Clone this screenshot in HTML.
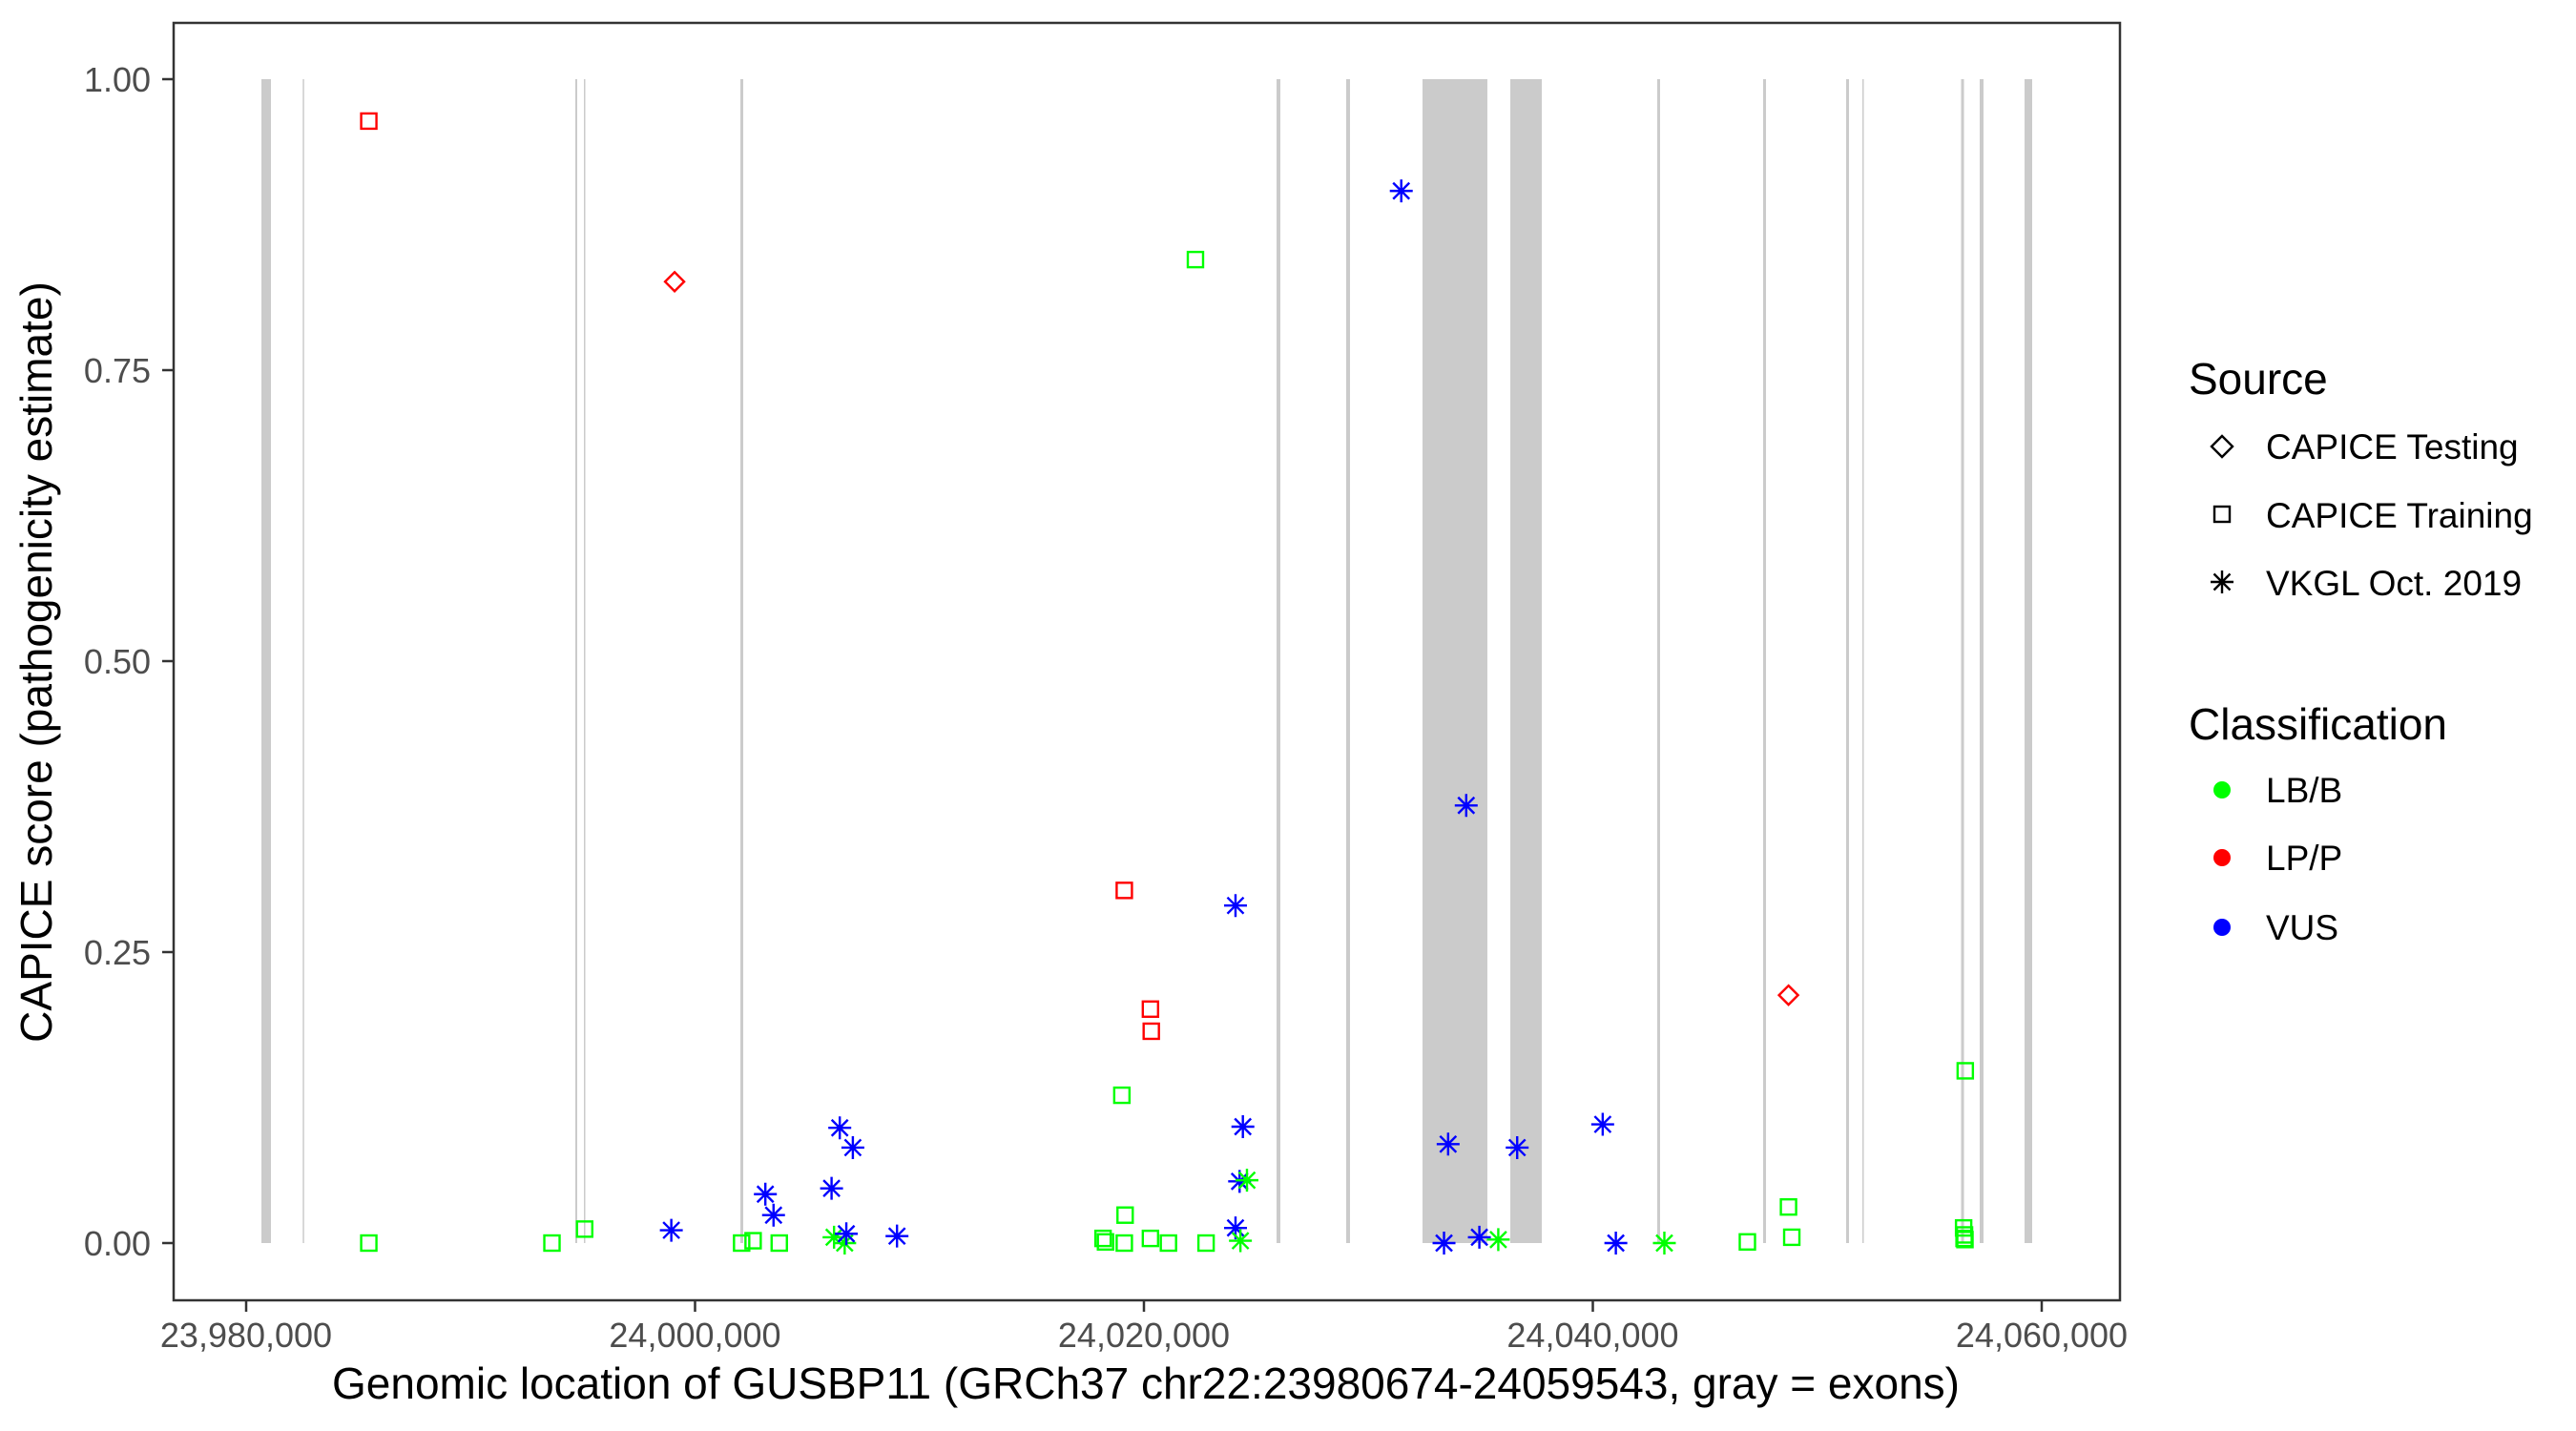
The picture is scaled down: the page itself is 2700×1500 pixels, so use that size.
<!DOCTYPE html>
<html><head><meta charset="utf-8"><style>
html,body{margin:0;padding:0;background:#fff;}
svg{display:block;font-family:"Liberation Sans",Arial,sans-serif;}
</style></head><body>
<svg id="chart" width="2700" height="1500" viewBox="0 0 2700 1500">
<rect width="2700" height="1500" fill="#fff"/>
<g id="exons"></g>
<g id="points"></g>
<rect x="182" y="24" width="2040" height="1339" fill="none" stroke="#333" stroke-width="2.5"/>
<g id="axes"></g>
<text x="1201" y="1466" text-anchor="middle" font-size="46" fill="#000">Genomic location of GUSBP11 (GRCh37 chr22:23980674-24059543, gray = exons)</text>
<text transform="translate(54,694) rotate(-90)" text-anchor="middle" font-size="46" fill="#000">CAPICE score (pathogenicity estimate)</text>
<g id="legend">
<text x="2294" y="413" font-size="46" fill="#000">Source</text>
<g><path d="M2329,457 l11,11 l-11,11 l-11,-11z" fill="none" stroke="#000" stroke-width="2.4"/><text x="2375" y="481" font-size="37">CAPICE Testing</text></g>
<g><rect x="2321" y="531" width="16" height="16" fill="none" stroke="#000" stroke-width="2.4"/><text x="2375" y="553" font-size="37">CAPICE Training</text></g>
<g><path d="M2317,610 h24 M2329,598 v24 M2320.5,601.5 l17,17 M2337.5,601.5 l-17,17" stroke="#000" stroke-width="2.4"/><text x="2375" y="624" font-size="37">VKGL Oct. 2019</text></g>
<text x="2294" y="775" font-size="46" fill="#000">Classification</text>
<g><circle cx="2329" cy="828" r="9" fill="#00ff00"/><text x="2375" y="841" font-size="37">LB/B</text></g>
<g><circle cx="2329" cy="899" r="9" fill="#ff0000"/><text x="2375" y="912" font-size="37">LP/P</text></g>
<g><circle cx="2329" cy="972" r="9" fill="#0000ff"/><text x="2375" y="985" font-size="37">VUS</text></g>
</g>
</svg>
<script>
const exonStarts=[23980680,23982520,23994665,23995048,24002020,24025908,24029011,24032412,24036323,24042869,24047588,24051286,24052009,24056408,24057237,24059235];
const exonEnds=[23981105,23982580,23994750,23995090,24002147,24026078,24029181,24035302,24037726,24042997,24047716,24051414,24052051,24056536,24057407,24059575];
const xTicks=[23980000,24000000,24020000,24040000,24060000];
const xTickLabels=["23,980,000","24,000,000","24,020,000","24,040,000","24,060,000"];
const yTicks=[0,0.25,0.5,0.75,1];
const yTickLabels=["0.00","0.25","0.50","0.75","1.00"];
const pointPos=[23985465,23999089,24022295,23985465,23993625,23995082,23998943,24002076,24002587,24003752,24003133,24003497,24006083,24006448,24007031,24006193,24006667,24006740,24008998,24019125,24020290,24020327,24019016,24019161,24018178,24018288,24019125,24020290,24021092,24022768,24024080,24024408,24024262,24024590,24024080,24024299,24031465,24034359,24033553,24036630,24040440,24033370,24034945,24035788,24041026,24043187,24046886,24048718,24048718,24048864,24056593,24056520,24056560,24056540,24056580];
const pointScore=[0.964,0.826,0.845,0,0,0.012,0.011,0,0.002,0,0.042,0.024,0.047,0.099,0.082,0.005,0,0.008,0.006,0.303,0.201,0.182,0.127,0.024,0.004,0.001,0,0.004,0,0,0.290,0.100,0.053,0.054,0.013,0.002,0.904,0.376,0.085,0.082,0.102,0,0.005,0.003,0,0,0.001,0.213,0.031,0.005,0.148,0.013,0.007,0.004,0.003];
const pointSource=["train","test","train","train","train","train","vkgl","train","train","train","vkgl","vkgl","vkgl","vkgl","vkgl","vkgl","vkgl","vkgl","vkgl","train","train","train","train","train","train","train","train","train","train","train","vkgl","vkgl","vkgl","vkgl","vkgl","vkgl","vkgl","vkgl","vkgl","vkgl","vkgl","vkgl","vkgl","vkgl","vkgl","vkgl","train","test","train","train","train","train","train","train","train"];
const pointClass=["LP","LP","LB","LB","LB","LB","VUS","LB","LB","LB","VUS","VUS","VUS","VUS","VUS","LB","LB","VUS","VUS","LP","LP","LP","LB","LB","LB","LB","LB","LB","LB","LB","VUS","VUS","VUS","LB","VUS","LB","VUS","VUS","VUS","VUS","VUS","VUS","VUS","LB","VUS","LB","LB","LP","LB","LB","LB","LB","LB","LB","LB"];
const colors={LB:"#00ff00",LP:"#ff0000",VUS:"#0000ff"};
const NS="http://www.w3.org/2000/svg";
function sx(v){return 258+(v-23980000)*0.023525;}
function sy(v){return 1303-v*1220;}
function mk(tag,attrs,parent){const e=document.createElementNS(NS,tag);for(const k in attrs)e.setAttribute(k,attrs[k]);parent.appendChild(e);return e;}
const ex=document.getElementById('exons');
for(let i=0;i<exonStarts.length;i++){
  const r=mk('rect',{x:sx(exonStarts[i]),y:sy(1),width:Math.max(1.5,sx(exonEnds[i])-sx(exonStarts[i])),height:sy(0)-sy(1),fill:"#cbcbcb"},ex);
  
  
}
const ax=document.getElementById('axes');
for(let i=0;i<xTicks.length;i++){
  const x=sx(xTicks[i]);
  const t=mk('line',{x1:x,x2:x,y1:1363,y2:1375,stroke:"#333","stroke-width":2.5},ax);
  
  
  const l=mk('text',{x:x,y:1412,"text-anchor":"middle","font-size":36,fill:"#4d4d4d"},ax);
  l.textContent=xTickLabels[i];
  
  
}
for(let i=0;i<yTicks.length;i++){
  const y=sy(yTicks[i]);
  const t=mk('line',{x1:170,x2:182,y1:y,y2:y,stroke:"#333","stroke-width":2.5},ax);
  
  
  const l=mk('text',{x:158,y:y+13,"text-anchor":"end","font-size":36,fill:"#4d4d4d"},ax);
  l.textContent=yTickLabels[i];
  
  
}
const pg=document.getElementById('points');
for(let i=0;i<pointPos.length;i++){
  const x=sx(pointPos[i]),y=sy(pointScore[i]),c=colors[pointClass[i]];
  let e;
  if(pointSource[i]==="train"){
    e=mk('rect',{x:x-8,y:y-8,width:16,height:16,fill:"none",stroke:c,"stroke-width":2.4},pg);
  }else if(pointSource[i]==="test"){
    e=mk('path',{d:`M${x},${y-10} l10,10 l-10,10 l-10,-10z`,fill:"none",stroke:c,"stroke-width":2.4},pg);
  }else{
    e=mk('path',{d:`M${x-12},${y} h24 M${x},${y-12} v24 M${x-8.5},${y-8.5} l17,17 M${x+8.5},${y-8.5} l-17,17`,stroke:c,"stroke-width":2.4,fill:"none"},pg);
  }
  
  
}
</script>
</body></html>
